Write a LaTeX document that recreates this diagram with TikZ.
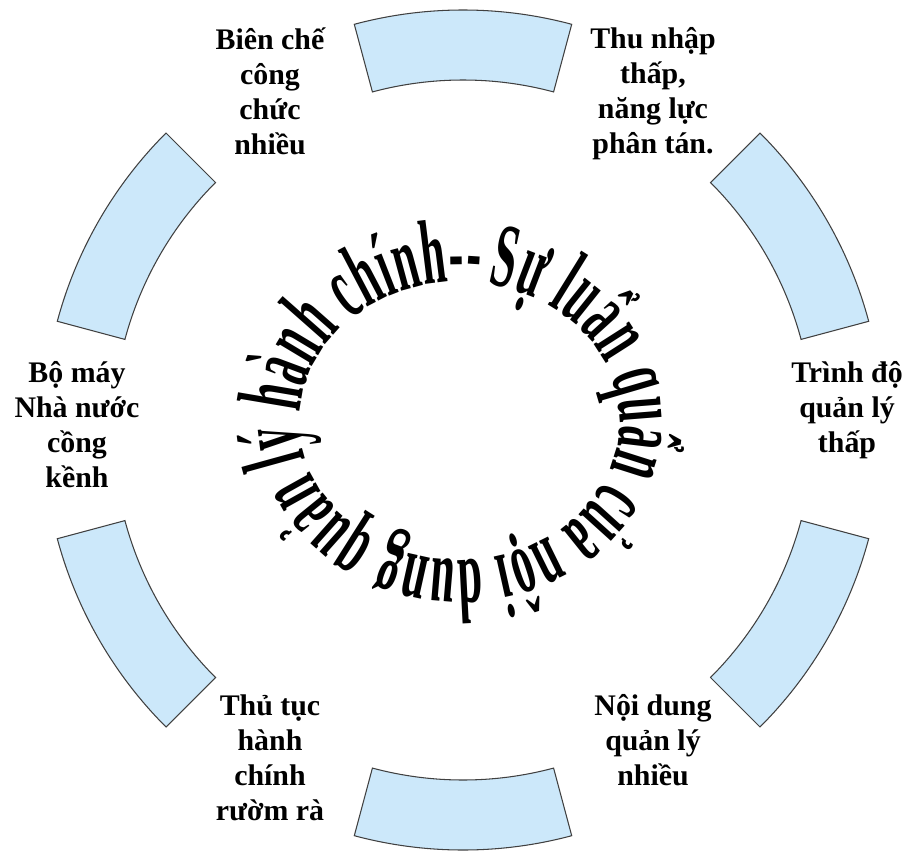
\documentclass[tikz,border=0pt]{standalone}
\usepackage{fontspec}
\setmainfont{Liberation Serif}
\newfontfamily\ringfont[FakeStretch=0.48]{Liberation Serif}
\usetikzlibrary{decorations.text}
\definecolor{bandblue}{RGB}{204,232,250}
\begin{document}
\begin{tikzpicture}[
  band/.style={draw=black!75,line width=0.6pt,fill=bandblue},
  lbl/.style={font=\bfseries\fontsize{17}{20}\selectfont,align=center,inner sep=0pt,anchor=north}]
\useasboundingbox (-9.26,-8.4) rectangle (8.88,8.6);
\draw[band] (75:8.4) arc[start angle=75,end angle=105,radius=8.4] -- (105:7) arc[start angle=105,end angle=75,radius=7] -- cycle;
\draw[band] (15:8.4) arc[start angle=15,end angle=45,radius=8.4] -- (45:7) arc[start angle=45,end angle=15,radius=7] -- cycle;
\draw[band] (-45:8.4) arc[start angle=-45,end angle=-15,radius=8.4] -- (-15:7) arc[start angle=-15,end angle=-45,radius=7] -- cycle;
\draw[band] (-105:8.4) arc[start angle=-105,end angle=-75,radius=8.4] -- (-75:7) arc[start angle=-75,end angle=-105,radius=7] -- cycle;
\draw[band] (195:8.4) arc[start angle=195,end angle=225,radius=8.4] -- (225:7) arc[start angle=225,end angle=195,radius=7] -- cycle;
\draw[band] (135:8.4) arc[start angle=135,end angle=165,radius=8.4] -- (165:7) arc[start angle=165,end angle=135,radius=7] -- cycle;
\node[lbl] (bienche) at (-3.86,8.06) {Biên chế\\công\\chức\\nhiều};
\node[lbl] (thunhap) at (3.80,8.06) {Thu nhập\\thấp,\\năng lực\\phân tán.};
\node[lbl] (trinhdo) at (7.68,1.38) {Trình độ\\quản lý\\thấp};
\node[lbl] (noidung) at (3.80,-5.28) {Nội dung\\quản lý\\nhiều};
\node[lbl] (thutuc) at (-3.86,-5.28) {Thủ tục\\hành\\chính\\rườm rà};
\node[lbl] (bomay) at (-7.72,1.38) {Bộ máy\\Nhà nước\\cồng\\kềnh};
\path[decorate,decoration={text along path,text align=fit to path,
  text={|\ringfont\bfseries\fontsize{52}{52}\selectfont|Sự luẩn quẩn của nội dung quản lý hành chính--}}]
  (-0.06,0.18) ++(80:3.2cm and 2.78cm) arc[start angle=80,end angle=-277,x radius=3.2,y radius=2.78];
\end{tikzpicture}
\end{document}
